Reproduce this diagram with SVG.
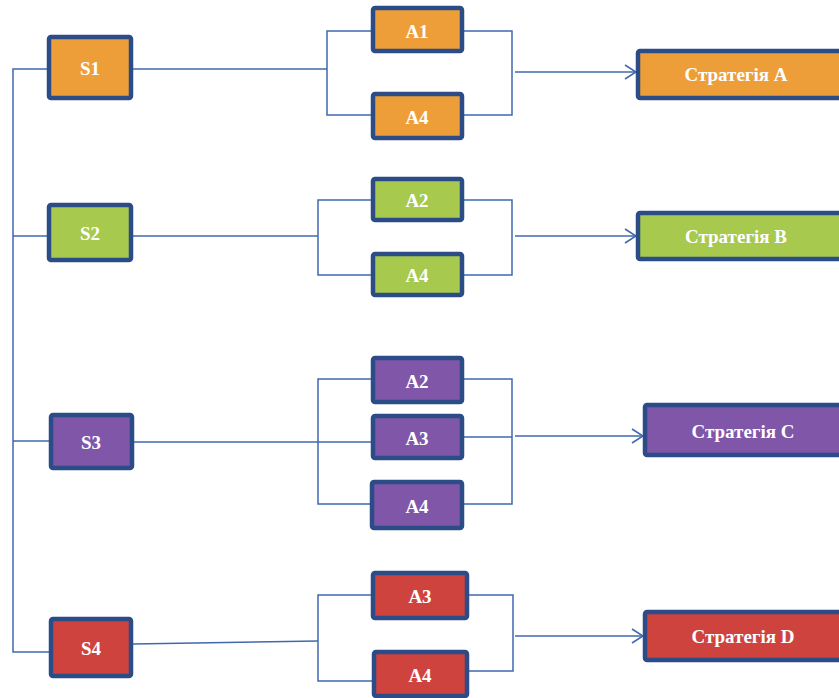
<svg xmlns="http://www.w3.org/2000/svg" width="839" height="698" viewBox="0 0 839 698">
<style>
.box{stroke:#2B4C86;stroke-width:4.5;}
.o{fill:#EE9E38}.g{fill:#A6C94E}.p{fill:#7F56A8}.r{fill:#CF433F}
.t{font-family:"Liberation Serif","Times New Roman",serif;font-weight:bold;fill:#fff;text-anchor:middle;dominant-baseline:central}
.s{font-size:19px}.a{font-size:19px}.st{font-size:19px}
.c{fill:none;stroke:#3F68AE;stroke-width:1.5}
</style>
<defs>
<marker id="arr" markerWidth="14" markerHeight="16" refX="12" refY="8" orient="auto" markerUnits="userSpaceOnUse">
<path d="M1,1 L12,8 L1,15" fill="none" stroke="#3F68AE" stroke-width="1.5"/>
</marker>
</defs>
<g id="connectors">
<path class="c" d="M47,69 H13 V652 H49"/>
<path class="c" d="M13,236 H47"/>
<path class="c" d="M13,441 H49"/>
<path class="c" d="M133,69 H327"/>
<path class="c" d="M373,31 H327 V115 H373"/>
<path class="c" d="M462,31 H512 V115 H462"/>
<path class="c" d="M515,72 H636" marker-end="url(#arr)"/>
<path class="c" d="M133,236 H318"/>
<path class="c" d="M373,200 H318 V275 H373"/>
<path class="c" d="M462,200 H512 V275 H462"/>
<path class="c" d="M515,236 H636" marker-end="url(#arr)"/>
<path class="c" d="M134,442 H373"/>
<path class="c" d="M373,379 H318 V504 H372"/>
<path class="c" d="M462,379 H512 V504 H462"/>
<path class="c" d="M462,437 H512"/>
<path class="c" d="M515,436 H643" marker-end="url(#arr)"/>
<path class="c" d="M133,644 L318,641"/>
<path class="c" d="M373,595 H318 V681 H374"/>
<path class="c" d="M467,595 H513 V671 H467"/>
<path class="c" d="M515,636 H643" marker-end="url(#arr)"/>
</g>
<g id="S1"><rect class="box o" x="49" y="37" width="82" height="61" rx="2"/><text class="t s" x="90" y="68">S1</text></g>
<g id="S2"><rect class="box g" x="49" y="205" width="82" height="55" rx="2"/><text class="t s" x="90" y="233">S2</text></g>
<g id="S3"><rect class="box p" x="51" y="415" width="81" height="53" rx="2"/><text class="t s" x="91" y="442">S3</text></g>
<g id="S4"><rect class="box r" x="51" y="619" width="80" height="57" rx="2"/><text class="t s" x="91" y="648">S4</text></g>
<g id="A1_1"><rect class="box o" x="373" y="8" width="89" height="43" rx="2"/><text class="t a" x="417" y="31">A1</text></g>
<g id="A4_1"><rect class="box o" x="373" y="94" width="89" height="44" rx="2"/><text class="t a" x="417" y="117">A4</text></g>
<g id="A2_2"><rect class="box g" x="373" y="179" width="89" height="41" rx="2"/><text class="t a" x="417" y="200">A2</text></g>
<g id="A4_2"><rect class="box g" x="373" y="254" width="89" height="41" rx="2"/><text class="t a" x="417" y="275">A4</text></g>
<g id="A2_3"><rect class="box p" x="373" y="358" width="89" height="44" rx="2"/><text class="t a" x="417" y="381">A2</text></g>
<g id="A3_3"><rect class="box p" x="373" y="416" width="89" height="42" rx="2"/><text class="t a" x="417" y="438">A3</text></g>
<g id="A4_3"><rect class="box p" x="372" y="482" width="90" height="46" rx="2"/><text class="t a" x="417" y="506">A4</text></g>
<g id="A3_4"><rect class="box r" x="373" y="573" width="94" height="45" rx="2"/><text class="t a" x="420" y="596">A3</text></g>
<g id="A4_4"><rect class="box r" x="374" y="652" width="93" height="44" rx="2"/><text class="t a" x="420" y="675">A4</text></g>
<g id="StratA"><rect class="box o" x="638" y="51" width="204" height="47" rx="2"/><text class="t st" x="736" y="74">Стратегія A</text></g>
<g id="StratB"><rect class="box g" x="638" y="213" width="204" height="46" rx="2"/><text class="t st" x="736" y="236">Стратегія B</text></g>
<g id="StratC"><rect class="box p" x="645" y="405" width="197" height="50" rx="2"/><text class="t st" x="743" y="431">Стратегія C</text></g>
<g id="StratD"><rect class="box r" x="645" y="612" width="197" height="48" rx="2"/><text class="t st" x="743" y="636">Стратегія D</text></g>
</svg>
